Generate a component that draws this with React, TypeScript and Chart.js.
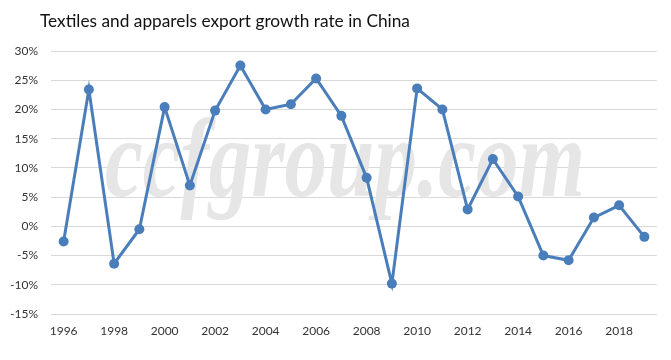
import React, { useEffect, useRef } from "react";
import { Chart, registerables } from "chart.js";

Chart.register(...registerables);

const TITLE = "Textiles and apparels export growth rate in China";
const WATERMARK = "ccfgroup.com";
const years = ["1996","1997","1998","1999","2000","2001","2002","2003","2004","2005","2006","2007","2008","2009","2010","2011","2012","2013","2014","2015","2016","2017","2018","2019"];
const growth = [-2.6, 23.4, -6.4, -0.5, 20.4, 7.0, 19.8, 27.5, 20.0, 20.9, 25.3, 18.9, 8.3, -9.8, 23.6, 20.0, 2.9, 11.5, 5.1, -5.0, -5.8, 1.5, 3.6, -1.8];
const yMin = -15;
const yMax = 30;
const yStep = 5;

const FONT = "Lato, 'Open Sans', sans-serif";

const decor = {
  id: "decor",
  beforeDatasetsDraw(chart: any) {
    const ctx = chart.ctx;
    const a = chart.chartArea;
    ctx.save();
    ctx.font = "italic bold 112px 'Liberation Serif', serif";
    const w = ctx.measureText(WATERMARK).width;
    const targetW = 480;
    const cx = a.left + (a.right - a.left) * 0.485;
    const by = a.top + 145;
    ctx.translate(cx, by);
    ctx.scale(targetW / w, 1);
    ctx.fillStyle = "#e6e6e6";
    ctx.textAlign = "center";
    ctx.textBaseline = "alphabetic";
    ctx.fillText(WATERMARK, 0, 0);
    ctx.restore();
  },
  afterDraw(chart: any) {
    const ctx = chart.ctx;
    ctx.save();
    ctx.font = "17.3px " + FONT;
    ctx.fillStyle = "#111";
    ctx.textAlign = "left";
    ctx.textBaseline = "middle";
    ctx.fillText(TITLE, 40, 21);
    ctx.restore();
  },
};

export default function App() {
  const ref = useRef<HTMLCanvasElement | null>(null);
  useEffect(() => {
    document.body.style.margin = "0";
    const chart = new Chart(ref.current as HTMLCanvasElement, {
      type: "line",
      data: {
        labels: years,
        datasets: [
          {
            data: growth,
            borderColor: "#4a7ebb",
            backgroundColor: "#4a7ebb",
            borderWidth: 3,
            pointRadius: 5,
            pointHoverRadius: 5,
            pointBorderWidth: 0,
            tension: 0,
          },
        ],
      },
      plugins: [decor],
      options: {
        animation: false,
        responsive: false,
        maintainAspectRatio: false,
        layout: { padding: { top: 51, right: 14, bottom: 0, left: 0 } },
        plugins: { legend: { display: false }, title: { display: false }, tooltip: { enabled: false } },
        scales: {
          x: {
            offset: true,
            grid: { display: false, drawTicks: false },
            border: { display: false },
            ticks: {
              autoSkip: false,
              maxRotation: 0,
              padding: 10,
              color: "#333",
              font: { family: FONT, size: 12 },
              callback: (_v: any, i: number) => (i % 2 === 0 ? years[i] : ""),
            },
            afterFit: (s: any) => { s.height = 46; },
          },
          y: {
            min: yMin,
            max: yMax,
            grid: { color: "#d9d9d9", drawTicks: false, lineWidth: 1 },
            border: { display: false },
            ticks: {
              stepSize: yStep,
              padding: 13,
              color: "#333",
              font: { family: FONT, size: 12 },
              callback: (v: any) => v + "%",
            },
            afterFit: (s: any) => { s.width = 51; },
          },
        },
      },
    });
    return () => chart.destroy();
  }, []);
  return (
    <div style={{ width: 671, height: 360 }}>
      <canvas ref={ref} width={671} height={360} style={{ width: 671, height: 360, display: "block" }} />
    </div>
  );
}
